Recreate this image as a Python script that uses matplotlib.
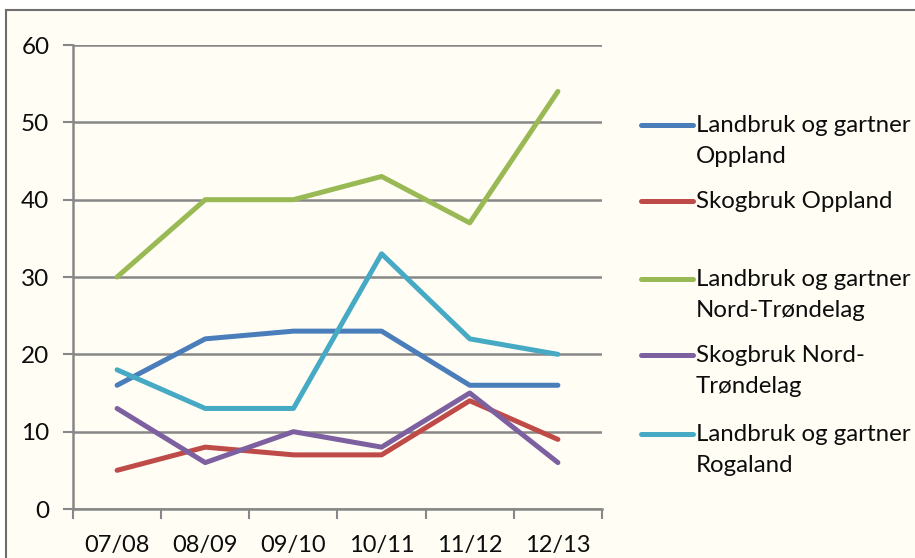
import numpy as np
import matplotlib
matplotlib.use('Agg')
import matplotlib.pyplot as plt
from matplotlib.lines import Line2D
from matplotlib.patches import Rectangle

plt.rcParams['font.family'] = ['Lato', 'DejaVu Sans']

seasons = ['07/08', '08/09', '09/10', '10/11', '11/12', '12/13']

landbruk_oppland = [16, 22, 23, 23, 16, 16]
skogbruk_oppland = [5, 8, 7, 7, 14, 9]
landbruk_ntrond = [30, 40, 40, 43, 37, 54]
skogbruk_ntrond = [13, 6, 10, 8, 15, 6]
landbruk_rogaland = [18, 13, 13, 33, 22, 20]

series = [
    ('Landbruk og gartner\nOppland', landbruk_oppland, '#4a7ebb'),
    ('Skogbruk Oppland', skogbruk_oppland, '#be4b48'),
    ('Landbruk og gartner\nNord-Trøndelag', landbruk_ntrond, '#98b954'),
    ('Skogbruk Nord-\nTrøndelag', skogbruk_ntrond, '#7d60a0'),
    ('Landbruk og gartner\nRogaland', landbruk_rogaland, '#46aac5'),
]

bg = '#fffdf4'
grid_col = '#878787'
txt_col = '#0d0d0d'

fig = plt.figure(figsize=(9.15, 5.58), dpi=100)
fig.patch.set_facecolor('white')
# chart frame
fig.patches.append(Rectangle((6 / 915, -0.05), 1.0, 1 - 10 / 558 + 0.05,
                             transform=fig.transFigure, facecolor=bg,
                             edgecolor='#6e6e6e', lw=1.5, zorder=-5))

ax = fig.add_axes([73 / 915, 1 - 509 / 558, (602 - 73) / 915, (509 - 45) / 558])
ax.patch.set_alpha(0)

x = np.arange(len(seasons))
for label, vals, col in series:
    ax.plot(x, vals, color=col, lw=3.6, solid_capstyle='round', zorder=3)

ax.set_xlim(-0.5, len(seasons) - 0.5)
ax.set_ylim(0, 60)
ax.set_yticks(range(0, 61, 10))
ax.set_xticks(x)
ax.set_xticklabels(seasons)
ax.set_xticks(np.arange(-0.5, len(seasons), 1), minor=True)
ax.tick_params(axis='x', which='major', length=0, pad=19, labelsize=17, labelcolor=txt_col)
ax.tick_params(axis='x', which='minor', length=7, width=1.5, color=grid_col, direction='out')
ax.tick_params(axis='y', length=7, width=1.5, color=grid_col, pad=10, labelsize=17.5, labelcolor=txt_col)
ax.yaxis.grid(True, color=grid_col, lw=1.8)
ax.set_axisbelow(True)
for side in ['top', 'right']:
    ax.spines[side].set_visible(False)
for side in ['left', 'bottom']:
    ax.spines[side].set_color(grid_col)
    ax.spines[side].set_linewidth(1.8)

# legend drawn by hand to match the stacked two-line entries
leg_y = [125, 201, 279, 355, 434]
for (label, vals, col), yp in zip(series, leg_y):
    yf = 1 - yp / 558
    fig.lines.append(Line2D([641 / 915, 693 / 915], [yf, yf], transform=fig.transFigure,
                            color=col, lw=3.6, solid_capstyle='round'))
    fig.text(696 / 915, yf + 10 / 558, label, ha='left', va='top', fontsize=17.3,
             color=txt_col, linespacing=1.58)

fig.savefig('out.png', dpi=100, facecolor=fig.get_facecolor())
